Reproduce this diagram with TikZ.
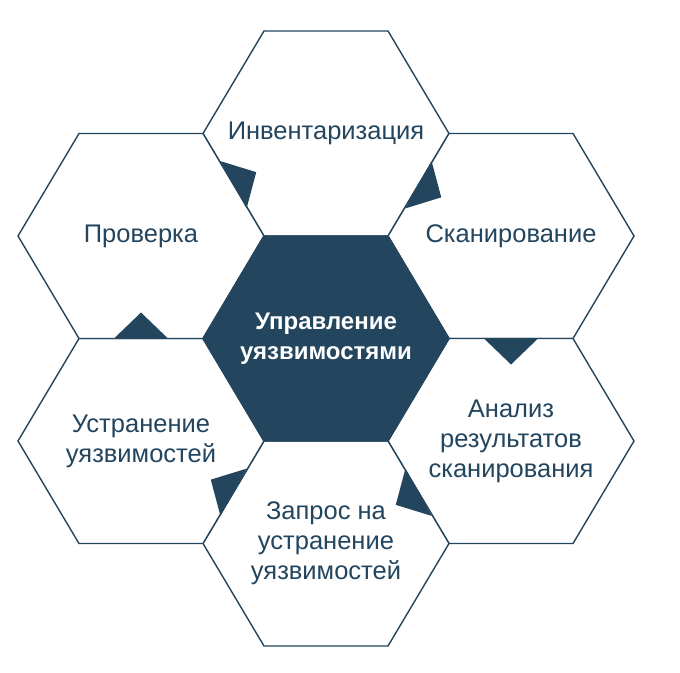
\documentclass[tikz,border=0pt]{standalone}
\usepackage{fontspec}
\setmainfont{Liberation Sans}
\usetikzlibrary{calc}
\definecolor{hexnavy}{RGB}{35,69,94}

\begin{document}
\begin{tikzpicture}[x=1pt,y=-1pt,
    hexcell/.style={draw=hexnavy,line width=1.4pt,fill=white},
    hexcore/.style={draw=hexnavy,line width=1.4pt,fill=hexnavy},
    cell label/.style={text=hexnavy,font=\fontsize{25.5}{30}\selectfont,align=center},
    core label/.style={text=white,font=\bfseries\fontsize{24}{30}\selectfont,align=center},
    cycle tip/.style={fill=hexnavy}
  ]
\useasboundingbox (0,0) rectangle (680,672);
\coordinate (core) at (326,338.5);
\coordinate (inv) at (326,133.5); \coordinate (scan) at (511,236); \coordinate (anl) at (511,441);
\coordinate (req) at (326,543.5); \coordinate (fix) at (141,441); \coordinate (chk) at (141,236);

\draw[hexcell] (inv) +(-62,-102.5) -- +(62,-102.5) -- +(123,0) -- +(62,102.5) -- +(-62,102.5) -- +(-123,0) -- cycle;
\draw[hexcell] (scan) +(-62,-102.5) -- +(62,-102.5) -- +(123,0) -- +(62,102.5) -- +(-62,102.5) -- +(-123,0) -- cycle;
\draw[hexcell] (anl) +(-62,-102.5) -- +(62,-102.5) -- +(123,0) -- +(62,102.5) -- +(-62,102.5) -- +(-123,0) -- cycle;
\draw[hexcell] (req) +(-62,-102.5) -- +(62,-102.5) -- +(123,0) -- +(62,102.5) -- +(-62,102.5) -- +(-123,0) -- cycle;
\draw[hexcell] (fix) +(-62,-102.5) -- +(62,-102.5) -- +(123,0) -- +(62,102.5) -- +(-62,102.5) -- +(-123,0) -- cycle;
\draw[hexcell] (chk) +(-62,-102.5) -- +(62,-102.5) -- +(123,0) -- +(62,102.5) -- +(-62,102.5) -- +(-123,0) -- cycle;
\draw[hexcore] (core) +(-62,-102.5) -- +(62,-102.5) -- +(123,0) -- +(62,102.5) -- +(-62,102.5) -- +(-123,0) -- cycle;

\coordinate (m1) at ($(chk)!0.5!(inv)$); \coordinate (m2) at ($(inv)!0.5!(scan)$); \coordinate (m3) at ($(scan)!0.5!(anl)$);
\coordinate (m4) at ($(anl)!0.5!(req)$); \coordinate (m5) at ($(req)!0.5!(fix)$); \coordinate (m6) at ($(fix)!0.5!(chk)$);
\fill[cycle tip] ($(m1)!27pt!90:(inv)$) -- ($(m1)!26pt!(inv)$) -- ($(m1)!27pt!-90:(inv)$) -- cycle;
\fill[cycle tip] ($(m2)!27pt!90:(scan)$) -- ($(m2)!26pt!(scan)$) -- ($(m2)!27pt!-90:(scan)$) -- cycle;
\fill[cycle tip] ($(m3)!27pt!90:(anl)$) -- ($(m3)!26pt!(anl)$) -- ($(m3)!27pt!-90:(anl)$) -- cycle;
\fill[cycle tip] ($(m4)!27pt!90:(req)$) -- ($(m4)!26pt!(req)$) -- ($(m4)!27pt!-90:(req)$) -- cycle;
\fill[cycle tip] ($(m5)!27pt!90:(fix)$) -- ($(m5)!26pt!(fix)$) -- ($(m5)!27pt!-90:(fix)$) -- cycle;
\fill[cycle tip] ($(m6)!27pt!90:(chk)$) -- ($(m6)!26pt!(chk)$) -- ($(m6)!27pt!-90:(chk)$) -- cycle;

\node[core label] (coretext) at (core) {Управление\\уязвимостями};
\node[cell label] (invtext) at (inv) {Инвентаризация};
\node[cell label] (scantext) at (scan) {Сканирование};
\node[cell label] (anltext) at (anl) {Анализ\\результатов\\сканирования};
\node[cell label] (reqtext) at (req) {Запрос на\\устранение\\уязвимостей};
\node[cell label] (fixtext) at (fix) {Устранение\\уязвимостей};
\node[cell label] (chktext) at (chk) {Проверка};
\end{tikzpicture}
\end{document}
